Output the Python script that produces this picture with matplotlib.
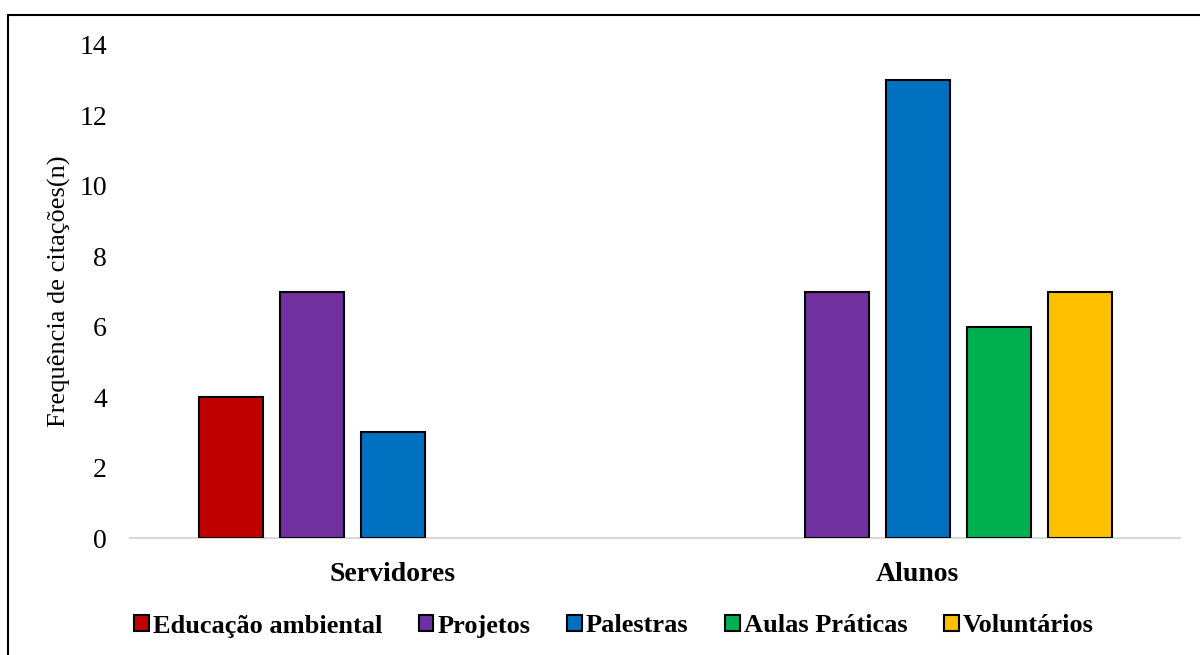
import numpy as np
import matplotlib
matplotlib.use("Agg")
import matplotlib.pyplot as plt
from matplotlib.patches import Rectangle

categories = ["Servidores", "Alunos"]
series_names = ["Educação ambiental", "Projetos", "Palestras", "Aulas Práticas", "Voluntários"]
educacao = [4, 0]
projetos = [7, 7]
palestras = [3, 13]
aulas = [0, 6]
voluntarios = [0, 7]
colors = ["#C00000", "#7030A0", "#0070C0", "#00B050", "#FFC000"]
yticks = [0, 2, 4, 6, 8, 10, 12, 14]

plt.rcParams['font.family'] = ['Liberation Serif', 'DejaVu Serif']

W, H = 1200, 655
fig = plt.figure(figsize=(12, 6.55), dpi=100)
ax = fig.add_axes([130 / W, 1 - 538 / H, (1180 - 130) / W, (538 - 45) / H])

series = [educacao, projetos, palestras, aulas, voluntarios]
x = np.arange(len(categories))
step = 81 / 525
width = 64 / 525
for i, (vals, c, name) in enumerate(zip(series, colors, series_names)):
    h = np.array(vals, dtype=float)
    h[h == 0] = np.nan
    ax.bar(x + (i - 2) * step, h, width=width, color=c, edgecolor="black",
           linewidth=1.5, label=name, zorder=3)

ax.set_xlim(-0.5, 1.5)
ax.set_ylim(0, 14)
ax.set_yticks(yticks)
ax.set_yticklabels([str(t) for t in yticks], fontsize=20)
ax.set_xticks(x)
ax.set_xticklabels(categories, fontsize=20, fontweight="bold")
ax.tick_params(axis="y", length=0, pad=16.5)
ax.tick_params(axis="x", length=0, pad=17)
for s in ["top", "right", "left"]:
    ax.spines[s].set_visible(False)
ax.spines["bottom"].set_color("#d9d9d9")
ax.spines["bottom"].set_linewidth(1.5)
ax.spines["bottom"].set_zorder(2)

ax.set_ylabel("Frequência de citações(n)", fontsize=19)
ax.yaxis.set_label_coords((71 - 130) / (1180 - 130), 0.5)

handles, labels = ax.get_legend_handles_labels()
leg = fig.legend(handles, labels, loc="center", bbox_to_anchor=(614 / W, 1 - 626 / H),
                 ncol=5, frameon=False, prop={"size": 19, "weight": "bold"},
                 handlelength=0.55, handleheight=0.55, handletextpad=0.15,
                 columnspacing=1.4)

fig.patches.append(Rectangle((8 / W, -0.05), 1.1, 1 - 15 / H + 0.05,
                             transform=fig.transFigure, fill=False,
                             edgecolor="black", linewidth=1.5))

fig.savefig("out.png", dpi=100)
